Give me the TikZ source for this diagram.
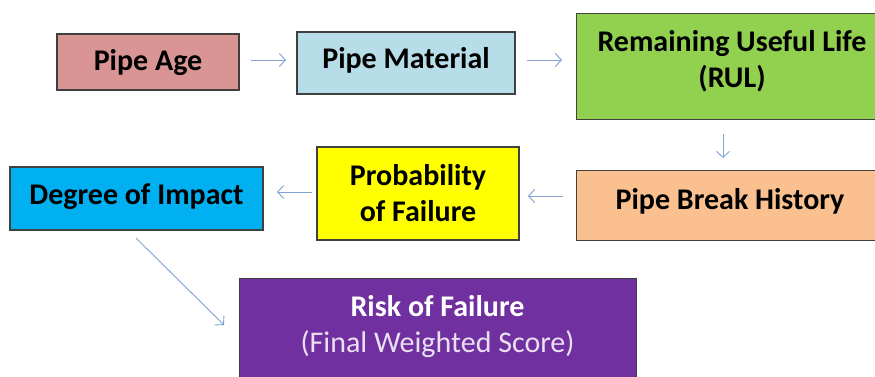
\documentclass[tikz,border=0pt]{standalone}
\usepackage{fontspec}
\setmainfont{Carlito}
\usetikzlibrary{arrows.meta}
\definecolor{cage}{HTML}{D99594}
\definecolor{cmat}{HTML}{B7DDE8}
\definecolor{crul}{HTML}{92D050}
\definecolor{cpbh}{HTML}{FAC090}
\definecolor{cpof}{HTML}{FFFF00}
\definecolor{cdoi}{HTML}{00B0F0}
\definecolor{crisk}{HTML}{7030A0}
\definecolor{cedge}{HTML}{404040}
\definecolor{carrow}{HTML}{7FA3D3}
\tikzset{
  box/.style={draw=cedge, line width=1.4pt, inner sep=0pt, align=center,
    font=\fontsize{30}{36}\selectfont\bfseries},
  lbl/.style={inner sep=0pt, align=center, font=\fontsize{30}{36}\selectfont\bfseries},
  flow/.style={draw=carrow, line width=0.9pt, -{Straight Barb[length=6pt,width=13pt]}},
}
\begin{document}
\begin{tikzpicture}[x=1pt,y=-1pt]
\useasboundingbox (0,0) rectangle (875,376);
\clip (0,0) rectangle (875,376);
\fill[white] (0,0) rectangle (875,376);
\node[box, fill=cage, minimum width=182pt, minimum height=56pt] (age) at (148,62) {};
\node[lbl] (agetxt) at (148,63) {Pipe Age};
\node[box, fill=cmat, minimum width=218pt, minimum height=62pt] (mat) at (406,63) {};
\node[lbl] (mattxt) at (406,60) {Pipe Material};
\node[box, fill=crul, minimum width=310pt, minimum height=106pt, anchor=north west] (rul) at (576,13) {};
\node[lbl] (rultxt) at (732,61) {Remaining Useful Life\\(RUL)};
\node[box, fill=cpbh, minimum width=310pt, minimum height=70pt, anchor=north west] (pbh) at (576,170) {};
\node[lbl] (pbhtxt) at (730,201) {Pipe Break History};
\node[box, fill=cpof, minimum width=202pt, minimum height=93pt] (pof) at (418,193.5) {Probability\\of Failure};
\node[box, fill=cdoi, minimum width=253pt, minimum height=63pt] (doi) at (136.5,198.5) {};
\node[lbl] (doitxt) at (136.5,197) {Degree of Impact};
\node[box, fill=crisk, minimum width=397pt, minimum height=110pt, anchor=north west] (risk) at (239,278) {};
\node[font=\fontsize{30}{36}\selectfont, inner sep=0pt, text=white, align=center] (risktxt) at (437.5,327) {\textbf{Risk of Failure}\\{\color{white!85!crisk}(Final Weighted Score)}};
\coordinate (a1s) at (251,60); \coordinate (a1e) at (286,60);
\draw[flow] (a1s) -- (a1e);
\coordinate (a2s) at (527,60); \coordinate (a2e) at (562,60);
\draw[flow] (a2s) -- (a2e);
\coordinate (a3s) at (723,134); \coordinate (a3e) at (723,158);
\draw[flow] (a3s) -- (a3e);
\coordinate (a4s) at (563,196); \coordinate (a4e) at (528,196);
\draw[flow] (a4s) -- (a4e);
\coordinate (a5s) at (312,192); \coordinate (a5e) at (277,192);
\draw[flow] (a5s) -- (a5e);
\coordinate (a6s) at (136,238); \coordinate (a6e) at (224,325);
\draw[flow] (a6s) -- (a6e);
\end{tikzpicture}
\end{document}
